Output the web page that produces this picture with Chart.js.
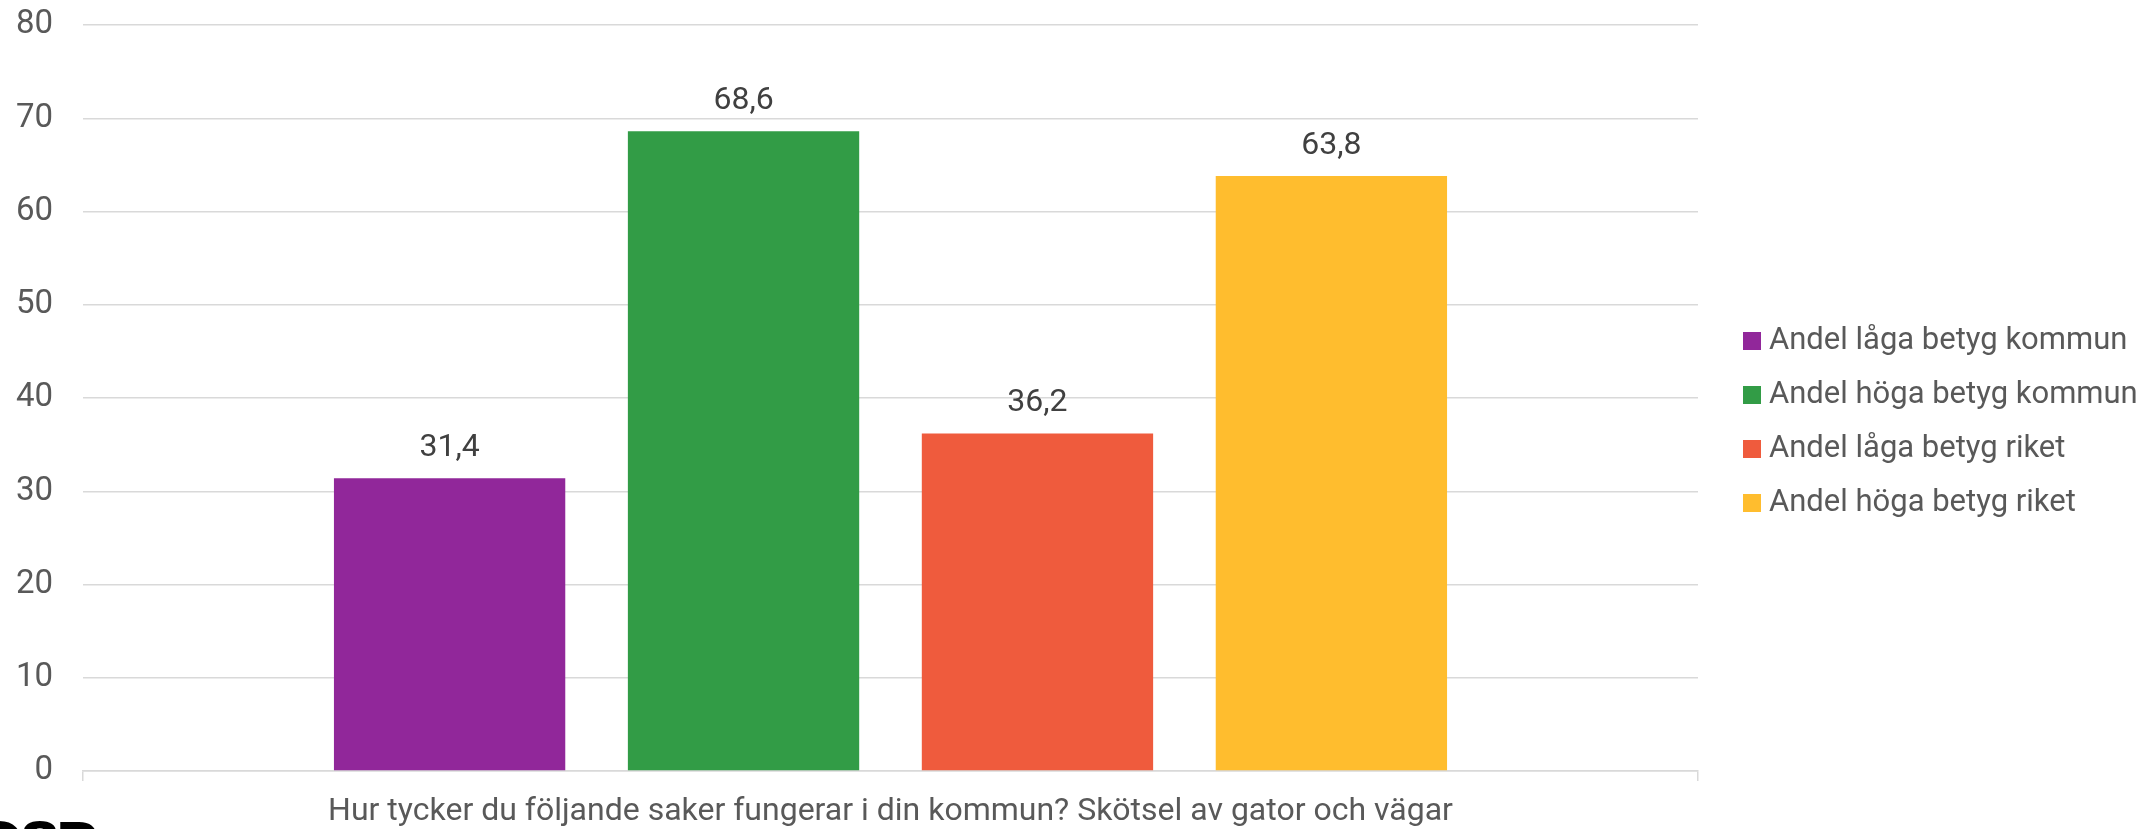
<!DOCTYPE html>
<html>
<head>
<meta charset="utf-8">
<script src="https://cdn.jsdelivr.net/npm/chart.js@4/dist/chart.umd.min.js"></script>
<style>
    html, body { margin: 0; padding: 0; background: #fff; }
    #wrap { position: relative; width: 2151px; height: 829px; overflow: hidden; }
    #betygChart { position: absolute; left: 0; top: 0; }
    #legend { position: absolute; left: 1743px; top: 312px; font: 31px Roboto, sans-serif; color: #595959; }
    #legend .row { height: 54px; line-height: 54px; white-space: nowrap; }
    #legend .box { display: inline-block; width: 18px; height: 18px; margin-right: 8px; vertical-align: -1px; }
    #logo { position: absolute; left: -26px; top: 810px; font: bold 60px "DejaVu Sans", sans-serif; color: #000; letter-spacing: -6px; }
</style>
</head>
<body>
<div id="wrap">
    <canvas id="betygChart" width="2151" height="829"></canvas>
    <div id="legend"></div>
    <div id="logo">O8P</div>
</div>
<script>
var categories = ['Hur tycker du följande saker fungerar i din kommun? Skötsel av gator och vägar'];
var seriesNames = ['Andel låga betyg kommun', 'Andel höga betyg kommun', 'Andel låga betyg riket', 'Andel höga betyg riket'];
var lagaKommun = [31.4];
var hogaKommun = [68.6];
var lagaRiket = [36.2];
var hogaRiket = [63.8];
var seriesColors = ['#91279a', '#329c46', '#ef5b3d', '#ffbd2e'];
var yTicks = [0, 10, 20, 30, 40, 50, 60, 70, 80];

Chart.defaults.font.family = 'Roboto';
Chart.defaults.font.size = 32;
Chart.defaults.color = '#595959';

var seriesValues = [lagaKommun, hogaKommun, lagaRiket, hogaRiket];
var datasets = [];
$each = function(arr, fn) { for (var i = 0; i < arr.length; i++) fn(i, arr[i]); };
$each(seriesNames, function(i, v) {
    datasets.push({
        label: v,
        data: seriesValues[i],
        backgroundColor: seriesColors[i],
        borderWidth: 0,
        categoryPercentage: 0.728,
        barPercentage: 0.787
    });
});

// värdena ovanför staplarna, med decimalkomma
var valueLabels = {
    id: 'valueLabels',
    afterDatasetsDraw: function(chart) {
        var ctx = chart.ctx;
        ctx.save();
        ctx.font = '32px Roboto';
        ctx.fillStyle = '#404040';
        ctx.textAlign = 'center';
        ctx.textBaseline = 'middle';
        chart.data.datasets.forEach(function(ds, i) {
            chart.getDatasetMeta(i).data.forEach(function(bar, j) {
                ctx.fillText(ds.data[j].toFixed(1).replace('.', ','), bar.x, bar.y - 30);
            });
        });
        ctx.restore();
    }
};

var ctx = document.getElementById('betygChart').getContext('2d');
var betygChart = new Chart(ctx, {
    type: 'bar',
    data: {
        labels: categories,
        datasets: datasets
    },
    options: {
        responsive: false,
        animation: false,
        layout: {
            padding: { left: 0, right: 453, top: 25, bottom: 0 }
        },
        plugins: {
            legend: { display: false },
            tooltip: { enabled: false }
        },
        scales: {
            y: {
                min: 0,
                max: 80,
                afterBuildTicks: function(axis) {
                    axis.ticks = yTicks.map(function(v) { return { value: v }; });
                },
                afterFit: function(axis) {
                    // fast bredd, ingen extra luft ovanför/under
                    axis.width = 83;
                    axis.paddingTop = 0;
                    axis.paddingBottom = 0;
                },
                border: { display: false },
                grid: { color: '#d9d9d9', lineWidth: 1.5, drawTicks: false },
                ticks: { padding: 30, color: '#595959', font: { size: 33 } }
            },
            x: {
                afterFit: function(axis) {
                    axis.height = 58;
                    axis.paddingLeft = 0;
                    axis.paddingRight = 0;
                },
                border: { color: '#d9d9d9', width: 1.5 },
                grid: { color: '#d9d9d9', lineWidth: 1.5, offset: true, drawOnChartArea: false, tickLength: 10 },
                ticks: { padding: 12, color: '#595959', maxRotation: 0 }
            }
        }
    },
    plugins: [valueLabels]
});

var legend = document.getElementById('legend');
$each(seriesNames, function(i, v) {
    var row = document.createElement('div');
    row.className = 'row';
    row.innerHTML = '<span class="box" style="background:' + seriesColors[i] + '"></span>' + v;
    legend.appendChild(row);
});
</script>
</body>
</html>
